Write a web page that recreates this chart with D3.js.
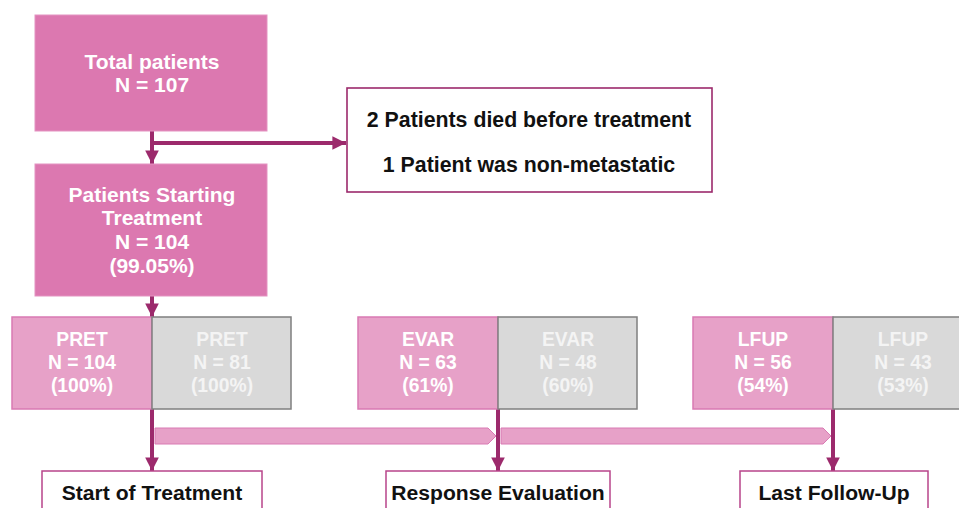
<!DOCTYPE html>
<html><head><meta charset="utf-8">
<script src="https://cdn.jsdelivr.net/npm/d3@7"></script>
<style>html,body{margin:0;padding:0;background:#fff;overflow:hidden}</style>
</head><body>
<svg id="c" width="959" height="508"></svg>
<script>
// ---- data ----
const totalLabel = ["Total patients", "N = 107"];
const startingLabel = ["Patients Starting", "Treatment", "N = 104", "(99.05%)"];
const exclusions = ["2 Patients died before treatment", "1 Patient was non-metastatic"];
const stages = ["PRET", "EVAR", "LFUP"];
const cohortA_N = [104, 63, 56];
const cohortA_pct = ["100%", "61%", "54%"];
const cohortB_N = [81, 48, 43];
const cohortB_pct = ["100%", "60%", "53%"];
const timepoints = ["Start of Treatment", "Response Evaluation", "Last Follow-Up"];

// ---- layout ----
const svg = d3.select("#c");
const FONT = "'Liberation Sans', Arial, sans-serif";
const DARK = "#9c2a6c";
const xStage = d3.scaleOrdinal().domain(stages).range([152, 498, 833]);

const defs = svg.append("defs");
defs.append("marker").attr("id", "ah").attr("viewBox", "0 0 10 10")
  .attr("refX", 10).attr("refY", 5).attr("markerWidth", 3.4).attr("markerHeight", 3.4)
  .attr("markerUnits", "strokeWidth").attr("orient", "auto")
  .append("path").attr("d", "M0,0 L10,5 L0,10 Z").attr("fill", DARK);

function lines(g, arr, cx, cy, lh, size, color) {
  const n = arr.length;
  g.selectAll(null).data(arr).enter().append("text")
    .attr("x", cx).attr("y", (d, i) => cy + (i - (n - 1) / 2) * lh)
    .attr("dy", "0.36em").attr("text-anchor", "middle")
    .attr("font-family", FONT).attr("font-weight", "bold")
    .attr("font-size", size).attr("fill", color).text(d => d);
}

// connectors (drawn first)
const conn = svg.append("g");
function arrow(x1, y1, x2, y2) {
  conn.append("line").attr("x1", x1).attr("y1", y1).attr("x2", x2).attr("y2", y2)
    .attr("stroke", DARK).attr("stroke-width", 4).attr("marker-end", "url(#ah)");
}
arrow(152, 131, 152, 164);
conn.append("line").attr("x1", 150).attr("y1", 143).attr("x2", 346).attr("y2", 143)
  .attr("stroke", DARK).attr("stroke-width", 4).attr("marker-end", "url(#ah)");
arrow(152, 296, 152, 317);

// top boxes
const g1 = svg.append("g");
g1.append("rect").attr("x", 35).attr("y", 15).attr("width", 232).attr("height", 116)
  .attr("fill", "#dc78b0").attr("stroke", "#e493c1").attr("stroke-width", 1);
lines(g1, totalLabel, 152, 72.5, 23, 21, "#fff");

const g2 = svg.append("g");
g2.append("rect").attr("x", 35).attr("y", 164).attr("width", 232).attr("height", 132)
  .attr("fill", "#dc78b0").attr("stroke", "#e493c1").attr("stroke-width", 1);
lines(g2, startingLabel, 152, 229.5, 23.7, 21, "#fff");

const g3 = svg.append("g");
g3.append("rect").attr("x", 347).attr("y", 88).attr("width", 365).attr("height", 104)
  .attr("fill", "#fff").attr("stroke", DARK).attr("stroke-width", 1.6);
g3.selectAll(null).data(exclusions).enter().append("text")
  .attr("x", 529).attr("y", (d, i) => 119 + i * 45).attr("dy", "0.36em")
  .attr("text-anchor", "middle").attr("font-family", FONT).attr("font-weight", "bold")
  .attr("font-size", 21.3).attr("fill", "#111").text(d => d);

// timeline bands
const bands = svg.append("g");
const bandSpans = [[stages[0], stages[1]], [stages[1], stages[2]]];
bands.selectAll(null).data(bandSpans).enter().append("path")
  .attr("d", d => {
    const x0 = xStage(d[0]) + 3, x1 = xStage(d[1]) - 2, y0 = 428, y1 = 444, ym = 436;
    return `M${x0},${y0} L${x1 - 8},${y0} L${x1},${ym} L${x1 - 8},${y1} L${x0},${y1} Z`;
  })
  .attr("fill", "#e7a1c8").attr("stroke", "#d97ab3").attr("stroke-width", 1);

// stage arrows down
stages.forEach(s => arrow(xStage(s), 409, xStage(s), 471));

// stage boxes
const W = 140;
const sg = svg.append("g");
stages.forEach((s, i) => {
  const x = xStage(s);
  sg.append("rect").attr("x", x - W).attr("y", 317).attr("width", W).attr("height", 92)
    .attr("fill", "#e7a1c8").attr("stroke", "#d97ab3").attr("stroke-width", 1.5);
  sg.append("rect").attr("x", x).attr("y", 317).attr("width", W - 1).attr("height", 92)
    .attr("fill", "#d9d9d9").attr("stroke", "#7f7f7f").attr("stroke-width", 1.5);
  lines(sg, [s, "N = " + cohortA_N[i], "(" + cohortA_pct[i] + ")"], x - W / 2, 362, 23, 19.3, "#fff");
  lines(sg, [s, "N = " + cohortB_N[i], "(" + cohortB_pct[i] + ")"], x + W / 2, 362, 23, 19.3, "#f4f4f4");
});

// timepoint label boxes
const tb = svg.append("g");
const tbox = [[42, 262], [386, 610], [740, 928]];
timepoints.forEach((t, i) => {
  tb.append("rect").attr("x", tbox[i][0]).attr("y", 471).attr("width", tbox[i][1] - tbox[i][0]).attr("height", 50)
    .attr("fill", "#fff").attr("stroke", "#b8448a").attr("stroke-width", 1.5);
  tb.append("text").attr("x", (tbox[i][0] + tbox[i][1]) / 2).attr("y", 492).attr("dy", "0.36em")
    .attr("text-anchor", "middle").attr("font-family", FONT).attr("font-weight", "bold")
    .attr("font-size", 21.1).attr("fill", "#111").text(t);
});
</script>
</body></html>
